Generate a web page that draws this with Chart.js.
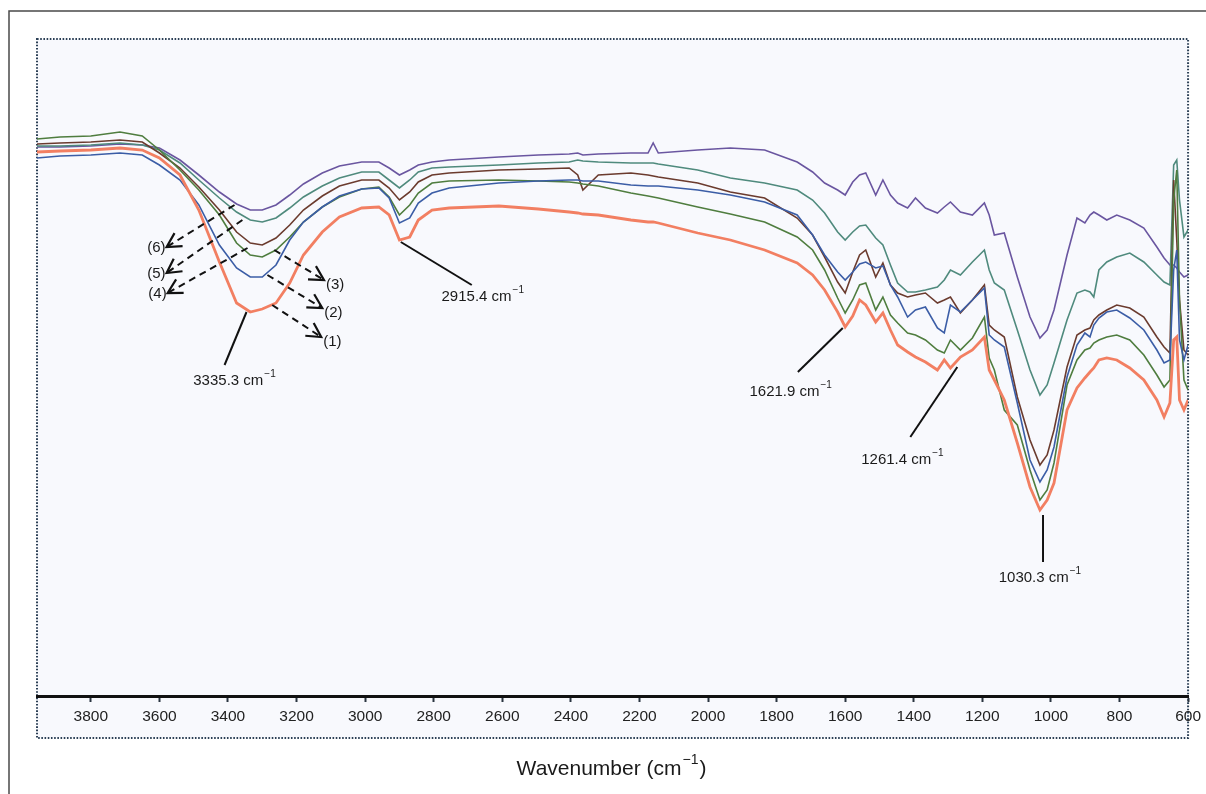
<!DOCTYPE html>
<html><head><meta charset="utf-8">
<script src="https://cdn.jsdelivr.net/npm/chart.js@4.4.0/dist/chart.umd.min.js"></script>
<style>html,body{margin:0;padding:0;background:#fff;}canvas{display:block;}</style>
</head><body>
<canvas id="c" width="1206" height="794"></canvas>
<script>
// Wavenumber (cm-1) sampling positions
const wavenumbers = [3957,3890,3800,3715,3650,3600,3540,3485,3425,3375,3335,3300,3260,3220,3180,3125,3075,3010,2960,2930,2900,2870,2845,2805,2755,2610,2495,2405,2380,2365,2320,2225,2175,2160,2145,2030,1935,1835,1740,1695,1660,1622,1600,1578,1558,1540,1511,1490,1468,1447,1418,1395,1366,1331,1311,1293,1264,1229,1194,1180,1165,1136,1098,1061,1032,1011,991,953,924,901,886,875,860,837,808,770,729,691,670,653,642,633,625,612,600];

// Transmittance (arbitrary units) of the six samples
const sample1 = [108.8,109.0,109.2,109.6,109.2,107.6,104.2,97.2,86.8,78.6,76.8,77.4,78.6,82.6,88.2,92.8,95.8,97.6,97.8,96.2,91.2,91.8,95.2,97.2,97.6,98.0,97.4,96.8,96.6,96.4,96.2,95.2,94.8,94.8,94.6,92.6,91.2,89.2,86.6,84.2,81.2,76.8,73.8,76.0,79.2,78.2,74.8,76.6,73.2,70.2,68.8,67.8,66.8,65.2,67.2,65.6,67.8,69.2,71.8,65.2,63.2,59.2,50.6,41.8,37.2,39.2,42.6,57.2,61.6,63.6,64.8,65.6,67.2,67.6,67.2,65.6,63.2,59.2,55.8,58.6,71.2,71.8,59.2,57.2,59.2];
const sample2 = [107.6,108.0,108.2,108.6,108.2,106.2,103.2,98.2,90.2,85.6,83.8,83.8,86.2,91.2,94.8,97.8,100.0,101.4,101.6,99.6,94.6,95.6,98.6,100.6,101.6,102.6,103.0,103.2,103.2,103.0,103.0,102.2,102.0,102.0,102.0,101.2,100.2,98.8,96.2,92.2,88.2,84.8,83.2,84.8,86.4,86.8,85.6,86.0,82.2,79.8,75.8,77.2,77.8,73.6,72.6,78.2,76.8,79.2,81.6,72.2,71.2,69.8,58.6,47.2,42.8,45.2,49.8,63.8,70.2,72.6,71.8,74.2,75.6,76.8,77.2,75.6,73.2,69.2,66.6,67.2,85.2,89.2,71.2,67.2,70.2];
const sample3 = [111.4,111.8,112.0,112.8,112.0,109.2,105.2,101.2,96.2,90.6,88.2,87.8,89.2,91.8,94.8,97.8,99.8,101.4,101.8,99.8,96.2,98.2,100.6,102.6,103.0,103.2,103.0,102.8,102.6,102.4,102.0,100.6,100.0,99.8,99.6,97.8,96.4,94.8,91.8,89.2,85.2,79.6,76.6,79.2,82.2,82.6,77.2,79.8,76.2,74.6,72.6,72.2,71.2,69.2,68.6,71.2,69.2,71.6,75.8,67.6,65.2,57.2,54.2,45.2,39.2,41.2,46.6,62.2,67.2,69.2,69.6,70.6,71.2,71.8,72.2,71.2,68.2,64.2,61.8,63.2,99.2,105.2,79.2,63.2,61.2];
const sample4 = [110.4,110.6,110.8,111.2,110.8,108.6,105.6,101.8,97.2,92.8,90.6,90.2,91.6,94.2,97.2,100.0,102.0,103.2,103.2,101.6,99.2,100.8,102.8,104.2,104.6,105.2,105.4,105.6,104.2,101.2,104.2,104.6,104.2,104.0,103.8,102.6,100.8,99.6,95.6,92.2,87.8,82.8,80.6,84.8,88.2,89.2,83.8,86.6,82.2,80.6,79.8,80.2,80.6,78.6,79.2,79.8,76.6,79.2,82.2,74.2,73.2,71.8,59.8,51.2,46.2,48.2,53.2,65.8,72.2,73.2,73.6,75.2,76.2,77.2,78.2,77.6,75.8,71.8,69.8,68.6,103.2,91.2,79.2,69.2,68.2];
const sample5 = [110.0,110.0,110.2,110.6,110.2,109.2,106.6,103.2,99.6,96.8,95.2,94.8,95.6,97.6,99.8,102.0,103.6,104.8,104.8,103.2,101.6,103.2,104.8,105.6,105.8,106.2,106.6,106.8,107.2,107.0,106.8,106.6,106.6,106.6,106.4,105.2,103.6,102.6,101.2,99.2,96.6,92.8,91.2,92.8,94.0,94.2,91.6,90.2,86.2,82.6,80.8,80.8,81.2,81.8,83.2,85.2,84.2,86.8,89.2,85.2,82.6,81.2,73.2,65.2,60.2,62.2,66.6,75.2,80.6,81.2,80.8,79.8,85.2,86.8,87.8,88.6,86.8,84.2,82.8,82.2,106.2,107.2,99.2,91.8,93.2];
const sample6 = [109.8,109.8,110.0,110.4,110.2,109.6,107.2,104.2,100.8,98.4,97.2,97.2,98.2,100.2,102.4,104.6,106.0,106.8,106.8,105.6,104.2,105.2,106.2,106.8,107.2,107.8,108.2,108.4,108.6,108.2,108.4,108.6,108.6,110.6,108.6,109.2,109.6,109.2,106.8,104.8,102.6,101.2,100.2,102.8,104.2,104.6,100.2,103.2,100.2,98.6,97.6,99.6,97.6,96.6,97.8,98.8,96.8,96.2,98.6,96.2,92.2,92.6,83.8,75.8,71.6,73.2,77.2,88.2,95.6,94.6,96.2,96.8,96.2,95.2,96.2,95.2,93.6,89.8,87.6,86.2,86.2,85.6,84.8,83.8,84.2];

const seriesNames = ['(1)','(2)','(3)','(4)','(5)','(6)'];
const seriesColors = ['#f27f62','#3b5da6','#4f7d3f','#6b3b2e','#4f8a7d','#6a56a0'];
const tickValues = [3800,3600,3400,3200,3000,2800,2600,2400,2200,2000,1800,1600,1400,1200,1000,800,600];

// Annotations in data coordinates [wavenumber, transmittance]
const peakNotes = [
  {label:'3335.3', tip:[3346,76.8], end:[3410,66.2], text:[3381,63.0]},
  {label:'2915.4', tip:[2896,90.8], end:[2689,82.2], text:[2657,79.8]},
  {label:'1621.9', tip:[1607,73.6], end:[1738,64.8], text:[1759,60.8]},
  {label:'1261.4', tip:[1273,65.8], end:[1410,51.8], text:[1433,47.2]},
  {label:'1030.3', tip:[1023,36.2], end:[1023,26.8], text:[1032,23.6]}
];
const sampleArrows = [
  {label:'(6)', start:[3381,98.2], head:[3579,89.8], side:'left'},
  {label:'(5)', start:[3358,95.2], head:[3579,84.6], side:'left'},
  {label:'(4)', start:[3343,89.6], head:[3576,80.6], side:'left'},
  {label:'(3)', start:[3265,89.2], head:[3120,83.2], side:'right'},
  {label:'(2)', start:[3285,84.2], head:[3125,77.6], side:'right'},
  {label:'(1)', start:[3271,78.2], head:[3128,71.8], side:'right'}
];

const FONT = '"Liberation Sans", Arial, Helvetica, sans-serif';
const allSeries = [sample1,sample2,sample3,sample4,sample5,sample6];

function drawWithSup(ctx, base, sup, tail, x, y, size, align){
  const supSize = Math.round(size*0.68);
  ctx.font = size + 'px ' + FONT;
  const wb = ctx.measureText(base).width;
  const wt = tail ? ctx.measureText(tail).width : 0;
  ctx.font = supSize + 'px ' + FONT;
  const ws = ctx.measureText(sup).width;
  const total = wb + 1 + ws + (tail ? 1 + wt : 0);
  let x0 = x;
  if (align === 'center') x0 = x - total/2;
  else if (align === 'right') x0 = x - total;
  ctx.textBaseline = 'middle';
  ctx.textAlign = 'left';
  ctx.font = size + 'px ' + FONT;
  ctx.fillText(base, x0, y);
  if (tail) ctx.fillText(tail, x0 + wb + 1 + ws + 1, y);
  ctx.font = supSize + 'px ' + FONT;
  ctx.fillText(sup, x0 + wb + 1, y - size*0.42);
}

const decor = {
  id: 'decor',
  beforeDraw(chart){
    const {ctx, chartArea:a} = chart;
    ctx.save();
    ctx.strokeStyle = '#4a4a4a'; ctx.lineWidth = 1.5;
    ctx.beginPath(); ctx.moveTo(9, 800); ctx.lineTo(9, 11); ctx.lineTo(1210, 11); ctx.stroke();
    const bottom = a.bottom + 42;
    ctx.fillStyle = '#f8f9fd';
    ctx.fillRect(a.left, a.top, a.right - a.left, bottom - a.top);
    ctx.setLineDash([1.6, 1.6]);
    ctx.strokeStyle = '#2b3f55'; ctx.lineWidth = 2;
    ctx.strokeRect(a.left, a.top, a.right - a.left, bottom - a.top);
    ctx.restore();
  },
  afterDraw(chart){
    const {ctx, scales:{x, y}, chartArea:a} = chart;
    const P = p => [x.getPixelForValue(p[0]), y.getPixelForValue(p[1])];
    ctx.save();
    ctx.fillStyle = '#1a1a1a';
    ctx.strokeStyle = '#111';
    peakNotes.forEach(n => {
      const t = P(n.tip), e = P(n.end), tx = P(n.text);
      ctx.lineWidth = 2; ctx.setLineDash([]);
      ctx.beginPath(); ctx.moveTo(t[0], t[1]); ctx.lineTo(e[0], e[1]); ctx.stroke();
      drawWithSup(ctx, n.label + ' cm', '\u22121', '', tx[0], tx[1], 15, 'center');
    });
    sampleArrows.forEach(s => {
      const st = P(s.start), h = P(s.head);
      ctx.lineWidth = 2; ctx.setLineDash([7, 5]);
      ctx.beginPath(); ctx.moveTo(st[0], st[1]); ctx.lineTo(h[0], h[1]); ctx.stroke();
      ctx.setLineDash([]);
      const ang = Math.atan2(h[1] - st[1], h[0] - st[0]);
      const L = 16, spread = 0.5;
      ctx.lineWidth = 2.2;
      ctx.beginPath();
      ctx.moveTo(h[0] - L*Math.cos(ang - spread), h[1] - L*Math.sin(ang - spread));
      ctx.lineTo(h[0], h[1]);
      ctx.lineTo(h[0] - L*Math.cos(ang + spread), h[1] - L*Math.sin(ang + spread));
      ctx.stroke();
      ctx.font = '15px ' + FONT;
      ctx.textBaseline = 'middle';
      if (s.side === 'left') { ctx.textAlign = 'right'; ctx.fillText(s.label, h[0] - 1, h[1] + 1); }
      else { ctx.textAlign = 'left'; ctx.fillText(s.label, h[0] + 2, h[1] + 5); }
    });
    drawWithSup(ctx, 'Wavenumber (cm', '\u22121', ')', (a.left + a.right)/2 - 1, 769, 21, 'center');
    ctx.restore();
  }
};

const datasets = allSeries.map((arr, i) => ({
  label: seriesNames[i],
  data: wavenumbers.map((w, k) => ({x: w, y: arr[k]})),
  borderColor: seriesColors[i],
  borderWidth: i === 0 ? 2.8 : 1.6,
  pointRadius: 0,
  tension: 0,
  fill: false
}));

new Chart(document.getElementById('c'), {
  type: 'line',
  data: { datasets },
  options: {
    responsive: false,
    animation: false,
    devicePixelRatio: 1,
    layout: { padding: { left: 37, right: 15, top: 39, bottom: 0 } },
    plugins: { legend: { display: false }, tooltip: { enabled: false } },
    scales: {
      x: {
        type: 'linear',
        reverse: true,
        min: 600,
        max: 3957,
        afterBuildTicks(scale){ scale.ticks = tickValues.map(v => ({value: v})); },
        afterFit(scale){ scale.height = 98; },
        ticks: { autoSkip: false, maxRotation: 0, minRotation: 0, padding: 5, color: '#222',
                 font: { family: FONT, size: 15.5 },
                 callback: v => String(v) },
        grid: { drawOnChartArea: false, drawTicks: true, tickLength: 6, tickWidth: 2, color: '#2a3540' },
        border: { display: true, color: '#111', width: 3 }
      },
      y: { display: false, min: 0, max: 131.4 }
    }
  },
  plugins: [decor]
});
</script>
</body></html>
